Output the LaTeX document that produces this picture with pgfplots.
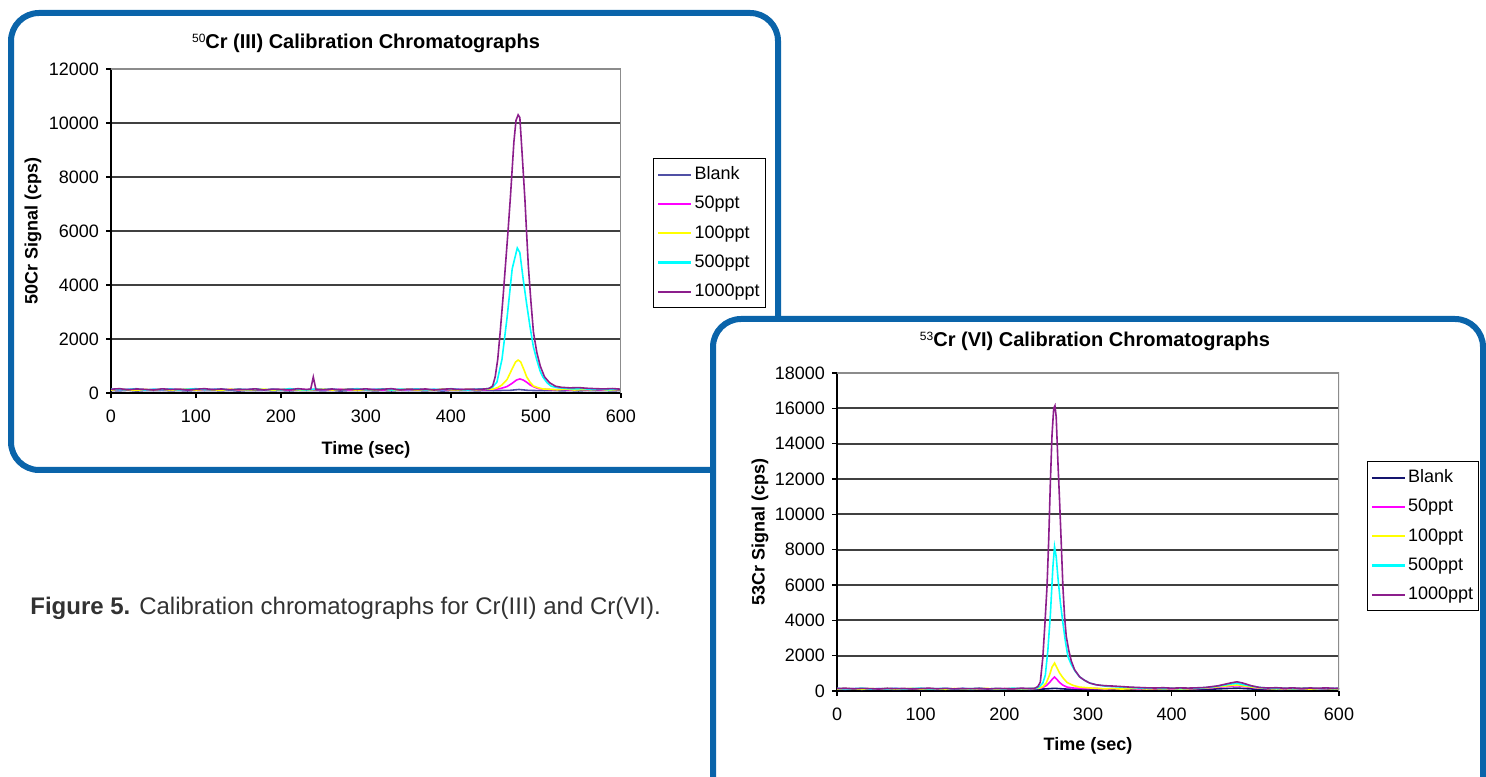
\documentclass[border=0pt]{standalone}
\usepackage{pgfplots}
\pgfplotsset{compat=1.18}
\usepackage{fontspec}
\setmainfont{Liberation Sans}
\definecolor{panelblue}{RGB}{10,100,170}
\definecolor{cblankA}{RGB}{80,80,165}
\definecolor{cblankB}{RGB}{20,20,110}
\definecolor{cmag}{RGB}{255,0,255}
\definecolor{cyel}{RGB}{255,255,0}
\definecolor{ccyan}{RGB}{0,255,255}
\definecolor{cpurp}{RGB}{140,30,140}
\definecolor{captgray}{RGB}{50,50,50}
\pgfplotsset{
  chrom/.style={
    scale only axis,
    axis lines=left,
    axis line style={-, black, line width=0.8pt},
    tick align=outside,
    major tick length=2.5pt,
    tick style={black, line width=0.7pt},
    ymajorgrids,
    grid style={black!75, line width=0.9pt},
    xmin=0, xmax=600, xtick={0,100,...,600},
    ticklabel style={font=\fontsize{9}{10}\selectfont},
    xticklabel style={yshift=-2.5pt},
    /pgf/number format/assume math mode=true,
    /pgf/number format/set thousands separator={},
    scaled ticks=false,
    every axis plot/.append style={line width=0.8pt, no markers},
    legend cell align=left,
    legend image code/.code={\draw[##1, line width=1.1pt] (0pt,0pt) -- (16.5pt,0pt);},
    legend style={draw=black, line width=0.6pt, fill=white,
      font=\fontsize{9}{10}\selectfont, row sep=4.8pt,
      nodes={inner sep=1pt}, inner xsep=1.8pt, inner ysep=3pt, anchor=north west},
  }
}
\begin{document}
\begin{tikzpicture}
\begin{scope}[x=0.5pt,y=0.5pt]
\useasboundingbox (0,0) rectangle (1486,776);
\draw[panelblue, line width=3pt, rounded corners=14pt, fill=white] (11,306) rectangle (778,763);
\node[font=\fontsize{10}{12}\selectfont\bfseries] at (366,733) {\raisebox{0.55ex}{\fontsize{6}{6}\selectfont\mdseries 50}Cr (III) Calibration Chromatographs};
\node[font=\fontsize{9}{11}\selectfont\bfseries, rotate=90] at (33,545) {50Cr Signal (cps)};
\node[font=\fontsize{9}{11}\selectfont\bfseries] at (366,326) {Time (sec)};
\end{scope}

\begin{axis}[chrom, at={(55.5pt,191.5pt)}, anchor=south west,
  width=255pt, height=162pt,
  ymin=0, ymax=12000, ytick={0,2000,...,12000},
  legend style={at={(1.063,0.725)}}]
\addplot[cblankA] coordinates {(0,90)(10,80)(20,100)(30,70)(40,90)(50,85)(60,95)(70,80)(80,90)(90,75)(100,95)(110,85)(120,90)(130,80)(140,95)(150,70)(160,90)(170,85)(180,95)(190,80)(200,90)(210,75)(220,95)(230,85)(240,90)(250,80)(260,95)(270,70)(280,90)(290,85)(300,95)(310,80)(320,90)(330,75)(340,95)(350,85)(360,90)(370,80)(380,95)(390,70)(400,90)(410,85)(420,95)(430,80)(440,90)(450,85)(460,95)(470,100)(480,130)(490,100)(500,90)(510,85)(520,95)(530,80)(540,90)(550,75)(560,95)(570,85)(580,90)(590,80)(600,90)};
\addplot[cmag] coordinates {(0,130)(10,115)(20,140)(30,120)(40,105)(50,135)(60,120)(70,145)(80,110)(90,130)(100,125)(110,105)(120,140)(130,120)(140,135)(150,110)(160,125)(170,145)(180,105)(190,130)(200,120)(210,110)(220,140)(230,125)(240,130)(250,110)(260,120)(270,145)(280,105)(290,130)(300,120)(310,140)(320,110)(330,135)(340,120)(350,105)(360,140)(370,120)(380,130)(390,110)(400,125)(410,140)(420,105)(430,130)(440,120)(450,140)(455,150)(460,180)(466,240)(472,360)(477,480)(481,520)(485,480)(489,400)(493,300)(498,220)(503,160)(510,140)(520,120)(530,135)(540,110)(550,140)(560,120)(570,130)(580,110)(590,125)(600,135)};
\addplot[cyel] coordinates {(0,110)(10,140)(20,120)(30,100)(40,130)(50,115)(60,140)(70,105)(80,125)(90,145)(100,110)(110,130)(120,120)(130,100)(140,140)(150,125)(160,110)(170,130)(180,145)(190,105)(200,125)(210,140)(220,115)(230,100)(240,130)(250,145)(260,110)(270,125)(280,140)(290,100)(300,130)(310,115)(320,145)(330,105)(340,125)(350,140)(360,110)(370,130)(380,100)(390,145)(400,120)(410,110)(420,135)(430,120)(440,140)(450,150)(455,200)(460,300)(466,500)(472,900)(476,1150)(479,1220)(482,1150)(486,850)(489,600)(493,400)(497,260)(502,200)(508,150)(515,140)(525,120)(535,145)(545,110)(555,130)(565,120)(575,140)(585,105)(595,125)(600,130)};
\addplot[ccyan] coordinates {(0,150)(10,120)(20,135)(30,160)(40,110)(50,140)(60,125)(70,150)(80,115)(90,140)(100,160)(110,120)(120,135)(130,150)(140,110)(150,145)(160,125)(170,155)(180,115)(190,140)(200,120)(210,160)(220,130)(230,110)(240,145)(250,125)(260,150)(270,115)(280,140)(290,160)(300,120)(310,135)(320,150)(330,110)(340,145)(350,125)(360,155)(370,115)(380,140)(390,120)(400,160)(410,130)(420,110)(430,145)(440,150)(445,170)(449,220)(454,400)(460,1250)(466,2800)(472,4600)(478,5370)(481,5200)(485,4200)(489,3300)(493,2450)(497,1700)(501,1220)(505,800)(508,600)(513,380)(518,250)(525,200)(535,170)(545,150)(555,165)(565,130)(575,150)(585,120)(595,145)(600,140)};
\addplot[cpurp] coordinates {(0,140)(10,160)(20,120)(30,150)(40,135)(50,110)(60,155)(70,130)(80,145)(90,115)(100,140)(110,160)(120,125)(130,150)(140,115)(150,140)(160,130)(170,155)(180,110)(190,145)(200,135)(210,120)(220,160)(230,130)(235,150)(238,590)(241,140)(250,125)(260,150)(270,110)(280,145)(290,130)(300,155)(310,120)(320,140)(330,160)(340,115)(350,145)(360,130)(370,150)(380,110)(390,140)(400,155)(410,125)(420,145)(430,135)(440,150)(445,170)(449,260)(452,600)(455,1250)(458,2300)(461,3450)(464,4700)(467,5950)(470,7300)(472,8300)(474,9300)(476.5,10100)(479,10300)(481,10200)(484,8700)(487,7150)(489,5900)(491,4700)(494,3400)(497,2250)(501,1500)(505,1000)(510,600)(516,380)(523,250)(530,210)(540,190)(550,200)(560,175)(570,160)(580,150)(590,165)(600,140)};
\draw[black!45, line width=0.8pt] (rel axis cs:0,1) -- (rel axis cs:1,1) -- (rel axis cs:1,0);
\legend{Blank,50ppt,100ppt,500ppt,1000ppt}
\end{axis}

\begin{scope}[x=0.5pt,y=0.5pt]
\clip (0,0) rectangle (1486,776);
\draw[panelblue, line width=3pt, rounded corners=14pt, fill=white] (713,-40) rectangle (1483,457);
\node[font=\fontsize{10}{12}\selectfont\bfseries] at (1095,435) {\raisebox{0.55ex}{\fontsize{6}{6}\selectfont\mdseries 53}Cr (VI) Calibration Chromatographs};
\node[font=\fontsize{9}{11}\selectfont\bfseries, rotate=90] at (760,244) {53Cr Signal (cps)};
\node[font=\fontsize{9}{11}\selectfont\bfseries] at (1088,30) {Time (sec)};
\node[anchor=west, inner sep=0pt, font=\fontsize{12}{14}\selectfont, text=captgray] at (30,168) {\textbf{Figure 5.} Calibration chromatographs for Cr(III) and Cr(VI).};
\end{scope}

\begin{axis}[chrom, at={(418.5pt,42.5pt)}, anchor=south west,
  width=251pt, height=159pt,
  ymin=0, ymax=18000, ytick={0,2000,...,18000},
  legend style={at={(1.055,0.723)}}]
\addplot[cblankB] coordinates {(0,100)(10,85)(20,110)(30,80)(40,100)(50,90)(60,105)(70,75)(80,95)(90,110)(100,85)(110,100)(120,80)(130,105)(140,90)(150,110)(160,80)(170,100)(180,95)(190,75)(200,105)(210,90)(220,110)(230,85)(240,100)(250,120)(260,150)(270,120)(280,95)(290,110)(300,85)(310,100)(320,80)(330,105)(340,90)(350,110)(360,80)(370,100)(380,95)(390,75)(400,105)(410,90)(420,110)(430,85)(440,100)(450,110)(460,130)(470,150)(480,160)(490,130)(500,105)(510,90)(520,110)(530,80)(540,100)(550,95)(560,75)(570,105)(580,90)(590,110)(600,85)};
\addplot[cmag] coordinates {(0,130)(10,110)(20,140)(30,120)(40,105)(50,135)(60,115)(70,145)(80,110)(90,130)(100,120)(110,140)(120,105)(130,130)(140,120)(150,145)(160,110)(170,130)(180,125)(190,105)(200,140)(210,120)(220,135)(230,115)(240,150)(246,200)(250,300)(254,480)(257,650)(260,790)(263,650)(266,480)(270,330)(275,220)(282,170)(290,150)(300,130)(310,145)(320,115)(330,135)(340,120)(350,140)(360,110)(370,130)(380,125)(390,145)(400,110)(410,135)(420,120)(430,140)(440,160)(450,190)(460,230)(470,270)(478,300)(490,230)(505,160)(515,130)(525,145)(535,115)(545,135)(555,120)(565,145)(575,110)(585,130)(595,140)(600,125)};
\addplot[cyel] coordinates {(0,110)(10,140)(20,120)(30,100)(40,135)(50,115)(60,140)(70,105)(80,125)(90,145)(100,110)(110,130)(120,120)(130,100)(140,140)(150,125)(160,110)(170,135)(180,145)(190,105)(200,125)(210,140)(220,115)(230,130)(238,150)(242,160)(246,250)(250,450)(254,900)(257,1350)(260,1580)(263,1300)(266,1020)(270,750)(275,480)(282,320)(290,220)(300,180)(310,150)(320,125)(330,140)(340,110)(350,130)(360,145)(370,115)(380,135)(390,120)(400,140)(410,110)(420,130)(430,145)(440,170)(450,210)(460,260)(470,310)(478,340)(490,260)(505,170)(515,140)(525,115)(535,135)(545,120)(555,145)(565,110)(575,130)(585,140)(595,115)(600,130)};
\addplot[ccyan] coordinates {(0,150)(10,120)(20,135)(30,160)(40,110)(50,140)(60,125)(70,150)(80,115)(90,140)(100,160)(110,120)(120,135)(130,150)(140,110)(150,145)(160,125)(170,155)(180,115)(190,140)(200,120)(210,160)(220,130)(230,140)(238,150)(242,250)(246,450)(249,900)(252,2300)(255,4300)(258,7000)(260,8170)(262,7600)(264,6450)(267,5000)(270,3850)(273,2800)(276,1950)(280,1500)(285,1100)(290,800)(296,600)(302,450)(310,350)(320,280)(330,250)(340,220)(350,200)(360,170)(370,150)(380,165)(390,140)(400,155)(410,130)(420,150)(430,160)(440,190)(450,240)(460,310)(470,390)(478,430)(490,320)(505,200)(515,160)(525,140)(535,155)(545,130)(555,150)(565,165)(575,135)(585,150)(595,140)(600,150)};
\addplot[cpurp] coordinates {(0,140)(10,160)(20,120)(30,150)(40,135)(50,110)(60,155)(70,130)(80,145)(90,115)(100,140)(110,160)(120,125)(130,150)(140,115)(150,140)(160,130)(170,155)(180,110)(190,145)(200,135)(210,120)(220,160)(230,140)(236,150)(240,250)(243,500)(246,1900)(248.5,3800)(251,5900)(253,8500)(255,11800)(257,14500)(259,16000)(260.5,16150)(262,15500)(264,13000)(266,10800)(268,8400)(270,5900)(272,4200)(274,3100)(277,2300)(280,1700)(284,1200)(290,800)(296,600)(302,450)(310,350)(320,300)(330,280)(340,250)(350,220)(360,200)(370,180)(380,170)(390,185)(400,160)(410,175)(420,165)(430,180)(440,200)(455,290)(470,450)(478,520)(485,450)(495,300)(505,200)(515,170)(525,185)(535,160)(545,175)(555,150)(565,170)(575,160)(585,175)(595,150)(600,165)};
\draw[black!45, line width=0.8pt] (rel axis cs:0,1) -- (rel axis cs:1,1) -- (rel axis cs:1,0);
\legend{Blank,50ppt,100ppt,500ppt,1000ppt}
\end{axis}
\end{tikzpicture}
\end{document}
